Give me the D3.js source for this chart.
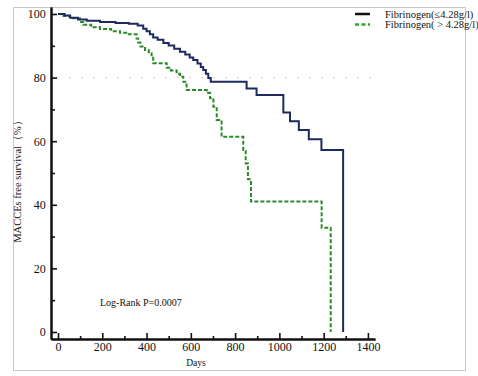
<!DOCTYPE html>
<html><head><meta charset="utf-8">
<script src="https://cdn.jsdelivr.net/npm/d3@7"></script>
<style>body{margin:0;background:#fff}svg{display:block}text{font-family:"Liberation Serif","Times New Roman",serif;fill:#111}</style>
</head><body><svg id="c" width="478" height="376"></svg>
<script>
const xTicks = [0,200,400,600,800,1000,1200,1400];
const yTicks = [0,20,40,60,80,100];
const seriesNames = ["Fibrinogen(≤4.28g/l)", "Fibrinogen( > 4.28g/l)"];
const lowDays = [0,30,55,90,130,190,260,320,360,385,400,415,430,450,476,500,525,551,575,595,611,630,645,656,668,679,690,852,897,1018,1048,1088,1133,1190,1288];
const lowSurv = [100,99.5,98.8,98.3,97.9,97.5,97.2,96.9,96.4,95.4,94.6,93.6,92.6,91.9,90.9,90.1,89.1,88.1,87.3,86.3,85.5,84.4,83.3,82.4,81.2,79.9,78.7,76.6,74.5,69.0,66.3,63.5,60.6,57.2,0];
const highDays = [0,25,54,99,114,150,190,240,280,320,355,362,372,393,410,423,430,491,510,536,551,566,581,672,687,702,717,739,837,848,858,872,1191,1232];
const highSurv = [100,99.4,98.7,97.5,96.6,95.8,95.3,94.6,94.1,93.6,92.3,91.0,89.8,88.7,87.6,86.6,84.5,83.1,82.2,81.2,80.3,78.7,76.1,75.2,73.5,70.8,66.7,61.4,57.2,53,48,41,32.8,0];

const svg = d3.select("#c");
svg.append("rect").attr("x",13.5).attr("y",7.5).attr("width",452).attr("height",363)
  .attr("fill","none").attr("stroke","#c8c8c8").attr("stroke-width",1);

const x = d3.scaleLinear().domain([-31.6,1432]).range([51,375]);
const y = d3.scaleLinear().domain([-2.2,102.2]).range([339,7]);

// gridline at 80
svg.append("line").attr("x1",x(-31.6)+6).attr("x2",375).attr("y1",y(80)).attr("y2",y(80))
  .attr("stroke","#cfcfcf").attr("stroke-width",1).attr("stroke-dasharray","2,10");

// axes
const xAxis = svg.append("g").attr("transform","translate(0,339)")
  .call(d3.axisBottom(x).tickValues(xTicks).tickSize(-6).tickSizeOuter(0).tickPadding(10).tickFormat(d3.format("d")));
const xMinor = svg.append("g").attr("transform","translate(0,339)")
  .call(d3.axisBottom(x).tickValues(d3.range(100,1400,200)).tickSize(-3).tickSizeOuter(0).tickFormat(""));
const yAxis = svg.append("g").attr("transform","translate(51,0)")
  .call(d3.axisLeft(y).tickValues(yTicks).tickSize(-6).tickSizeOuter(0).tickPadding(10));
const yMinor = svg.append("g").attr("transform","translate(51,0)")
  .call(d3.axisLeft(y).tickValues([10,30,50,70,90]).tickSize(-4).tickSizeOuter(0).tickFormat(""));
[xAxis,xMinor,yAxis,yMinor].forEach(g=>{
  g.selectAll(".domain").attr("stroke","#111").attr("stroke-width",2);
  g.selectAll(".tick line").attr("stroke","#111").attr("stroke-width",1.6);
  g.selectAll("text").style("font-family","Liberation Serif, serif").style("font-size","12px").attr("fill","#111");
});
xAxis.selectAll("text").attr("dy","0.2em");
yAxis.selectAll("text").attr("dx","0.4em");

const line = d3.line().x(d=>x(d[0])).y(d=>y(d[1])).curve(d3.curveStepAfter);
const lowPts = lowDays.map((d,i)=>[d,lowSurv[i]]);
const highPts = highDays.map((d,i)=>[d,highSurv[i]]);

svg.append("path").attr("d",line(highPts)).attr("fill","none")
  .attr("stroke","#2a8a2a").attr("stroke-width",2).attr("stroke-dasharray","4,2");
svg.append("path").attr("d",line(lowPts)).attr("fill","none")
  .attr("stroke","#1c2a5e").attr("stroke-width",2);

// labels
svg.append("text").attr("x",196).attr("y",366).attr("text-anchor","middle")
  .style("font-size","9.5px").text("Days");
svg.append("text").attr("transform","translate(21,179) rotate(-90)").attr("text-anchor","middle")
  .style("font-size","10.5px").text("MACCEs free survival（%）");
svg.append("text").attr("x",100).attr("y",305.5).style("font-size","10px").text("Log-Rank P=0.0007");

// legend
svg.append("line").attr("x1",355).attr("x2",370).attr("y1",14).attr("y2",14)
  .attr("stroke","#111").attr("stroke-width",2.5);
svg.append("line").attr("x1",355).attr("x2",370).attr("y1",24.5).attr("y2",24.5)
  .attr("stroke","#2aa82a").attr("stroke-width",2.5).attr("stroke-dasharray","4,2.5");
svg.append("text").attr("x",385).attr("y",17.5).style("font-size","10.5px").text(seriesNames[0]);
svg.append("text").attr("x",385).attr("y",28).style("font-size","10.5px").text(seriesNames[1]);
</script></body></html>
